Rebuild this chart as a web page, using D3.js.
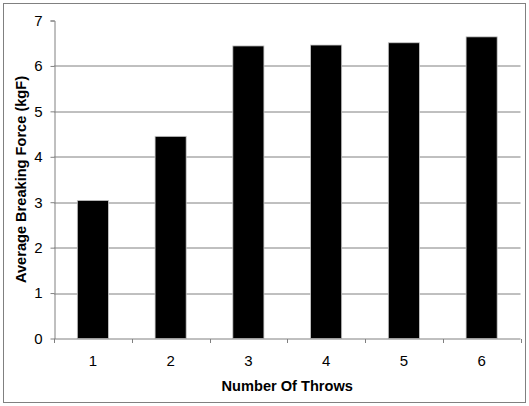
<!DOCTYPE html>
<html>
<head>
<meta charset="utf-8">
<script src="https://cdn.jsdelivr.net/npm/d3@7"></script>
<style>
  body { margin: 0; background: #fff; }
  text { font-family: Arial, "Liberation Sans", sans-serif; }
</style>
</head>
<body>
<div id="chart"></div>
<script>
// data
var throws = ["1", "2", "3", "4", "5", "6"];
var avgForce = [3.04, 4.45, 6.44, 6.46, 6.51, 6.64];
var yTicks = [0, 1, 2, 3, 4, 5, 6, 7];

var W = 529, H = 406;
var margin = {top: 20.5, right: 8.5, bottom: 67.5, left: 54};
var width = W - margin.left - margin.right,
    height = H - margin.top - margin.bottom;

var svg = d3.select("#chart")
  .append("svg")
    .attr("width", W)
    .attr("height", H);

// outer frame
svg.append("rect")
  .attr("x", 3.5).attr("y", 3.5)
  .attr("width", 522).attr("height", 399)
  .attr("fill", "#fff")
  .attr("stroke", "#808080")
  .attr("stroke-width", 1);

var g = svg.append("g")
  .attr("transform", "translate(" + margin.left + "," + margin.top + ")");

var y = d3.scaleLinear().domain([0, 7]).range([height, 0]);
var x = d3.scaleBand().domain(throws).range([0, width]).paddingInner(0.6).paddingOuter(0.3);
var xt = d3.scaleBand().domain(throws).range([0, width]);

// gridlines
g.append("g").selectAll("line")
  .data(yTicks.filter(function(d) { return d > 0 && d < 7; }))
  .enter().append("line")
    .attr("x1", 0).attr("x2", width)
    .attr("y1", function(d) { return Math.round(y(d)) + 0.5; })
    .attr("y2", function(d) { return Math.round(y(d)) + 0.5; })
    .attr("stroke", "#808080")
    .attr("stroke-width", 1);

// bars
g.append("g").selectAll(".bar")
  .data(avgForce)
  .enter().append("rect")
    .attr("class", "bar")
    .attr("x", function(d, i) { return x(throws[i]); })
    .attr("width", x.bandwidth())
    .attr("y", function(d) { return y(d); })
    .attr("height", function(d) { return height - y(d); })
    .attr("fill", "#000")
    .attr("stroke", "#c8c8c8")
    .attr("stroke-width", 0.8);

// y axis
var yAxis = g.append("g")
  .attr("transform", "translate(0.5,0)")
  .call(d3.axisLeft(y).tickValues(yTicks).tickSize(4).tickPadding(8).tickFormat(d3.format("d")));
yAxis.selectAll("line, path").attr("stroke", "#808080");
yAxis.selectAll("text").attr("font-size", 15).attr("fill", "#000").style("font-family", "Arial, 'Liberation Sans', sans-serif");
yAxis.select("path").attr("d", "M-4,0.5H0.5V" + (height + 0.5));

// x axis
var xAxis = g.append("g")
  .attr("transform", "translate(0," + (Math.round(height) + 0.5) + ")");
xAxis.append("line")
  .attr("x1", 0).attr("x2", width)
  .attr("stroke", "#808080");
xAxis.selectAll(".tk")
  .data(d3.range(throws.length + 1))
  .enter().append("line")
    .attr("x1", function(d) { return Math.round(d * xt.step()) + 0.5; })
    .attr("x2", function(d) { return Math.round(d * xt.step()) + 0.5; })
    .attr("y1", 0).attr("y2", 4)
    .attr("stroke", "#808080");
xAxis.selectAll(".lbl")
  .data(throws)
  .enter().append("text")
    .attr("x", function(d) { return xt(d) + xt.bandwidth() / 2; })
    .attr("y", 27)
    .attr("text-anchor", "middle")
    .attr("font-size", 15)
    .text(function(d) { return d; });

// axis titles
svg.append("text")
  .attr("x", margin.left + width / 2)
  .attr("y", 391)
  .attr("text-anchor", "middle")
  .attr("font-size", 14.6)
  .attr("font-weight", "bold")
  .text("Number Of Throws");

svg.append("text")
  .attr("transform", "translate(25.5," + (margin.top + height / 2) + ") rotate(-90)")
  .attr("text-anchor", "middle")
  .attr("font-size", 14.6)
  .attr("font-weight", "bold")
  .text("Average Breaking Force (kgF)");
</script>
</body>
</html>
